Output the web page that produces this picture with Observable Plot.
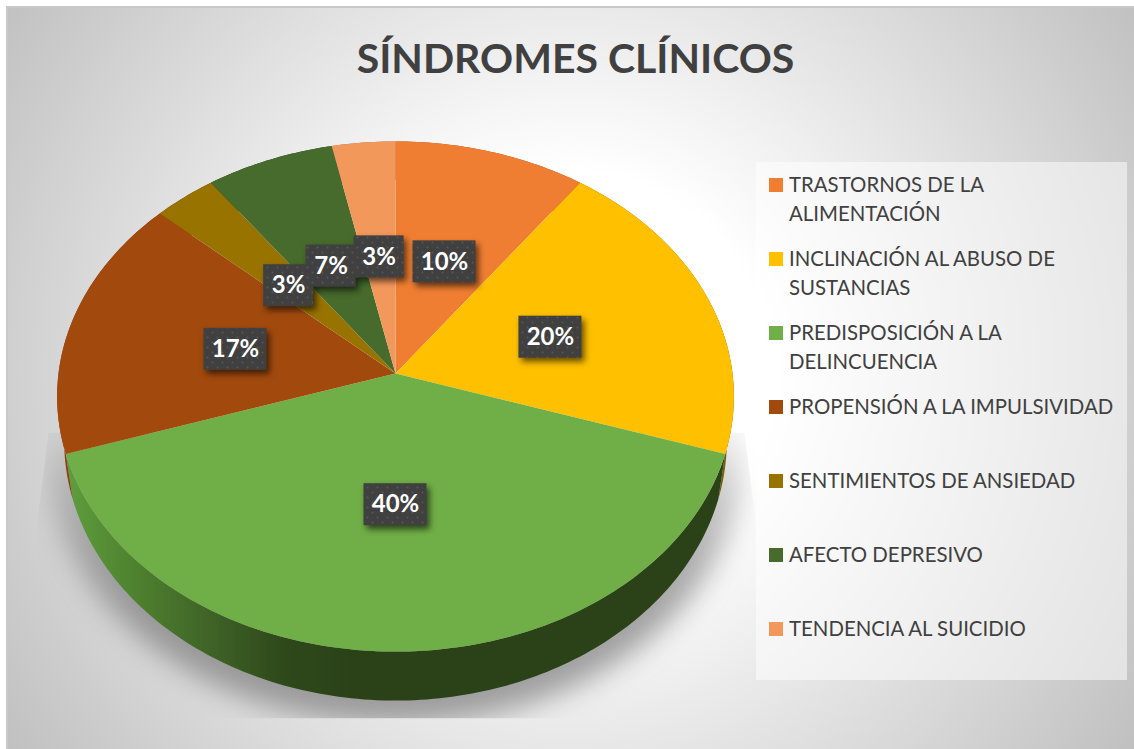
<!DOCTYPE html>
<html>
<head>
<meta charset="utf-8">
<script src="https://cdn.jsdelivr.net/npm/d3@7"></script>
<script src="https://cdn.jsdelivr.net/npm/@observablehq/plot@0.6"></script>
<style>
html,body{margin:0;padding:0;background:#fff;overflow:hidden}
svg{display:block}
</style>
</head>
<body>
<div id="chart"></div>
<script>
const titleText = "SÍNDROMES CLÍNICOS";
const categories = ["TRASTORNOS DE LA ALIMENTACIÓN","INCLINACIÓN AL ABUSO DE SUSTANCIAS","PREDISPOSICIÓN A LA DELINCUENCIA","PROPENSIÓN A LA IMPULSIVIDAD","SENTIMIENTOS DE ANSIEDAD","AFECTO DEPRESIVO","TENDENCIA AL SUICIDIO"];
const values = [10, 20, 40, 16.7, 3.3, 6.7, 3.3];
const colors = ["#EF7E32","#FFC000","#70AE47","#A24A0E","#997300","#466B2C","#F3985B"];
const wallFills = ["#9c5020","#7a5c00","url(#wallGreen)","#8a3f0c","#6a5000","#30491e","#a0663c"];
const legendLines = [["TRASTORNOS DE LA","ALIMENTACIÓN"],["INCLINACIÓN AL ABUSO DE","SUSTANCIAS"],["PREDISPOSICIÓN A LA","DELINCUENCIA"],["PROPENSIÓN A LA IMPULSIVIDAD"],["SENTIMIENTOS DE ANSIEDAD"],["AFECTO DEPRESIVO"],["TENDENCIA AL SUICIDIO"]];

// Perspective of the tilted disc
const cx = 395;
const topDisc = {a:337, b:253, k:0.0902, y:373};
const baseDisc = {a:330, b:258, k:0.0902, y:416.5};
const shadowDisc = {a:346, b:270, k:0.0902, y:427};
const project = (d, deg, r=1) => {
  const t = deg*Math.PI/180, den = 1 + r*d.k*Math.cos(t);
  return [cx + r*d.a*Math.sin(t)/den, d.y - r*d.b*Math.cos(t)/den];
};
const arc = (d, a0, a1) => {
  const n = Math.max(2, Math.ceil(Math.abs(a1-a0)));
  return d3.range(n+1).map(i => project(d, a0+(a1-a0)*i/n));
};

const total = d3.sum(values);
let run = 0;
const slices = values.map((v,i) => {
  const start = run/total*360; run += v;
  const end = run/total*360;
  return {i, name:categories[i], value:v, start, end, mid:(start+end)/2, wall:wallFills[i]};
});
const toRows = (pts,name) => pts.map(([x,y]) => ({x,y,name}));
const topRows = slices.flatMap(s => toRows([[cx,topDisc.y],...arc(topDisc,s.start,s.end)], s.name));
const wallMarks = slices.map(s => {
  const pts = [...arc(topDisc,s.start,s.end), ...arc(baseDisc,s.start,s.end).reverse()];
  return Plot.line(toRows(pts,s.name), {x:"x",y:"y",fill:s.wall,stroke:null,curve:"linear-closed"});
});
const shadowRows = toRows(arc(shadowDisc,0,360),"shadow");

const pct = d3.format(".0%");
const labels = slices.map(s => {
  const [x,y0] = project(topDisc, s.mid, 0.49);
  const y = y0 + 1.5;
  const text = pct(s.value/total);
  const w = text.length > 2 ? 63 : 50;
  return {x, y, text, x1:x-w/2, x2:x+w/2, y1:y-21, y2:y+21};
});

const legendRows = categories.map((name,i) => ({name, y:185+i*74}));
const legendText = legendRows.flatMap((r,i) => legendLines[i].map((t,j) => ({t, y:r.y+j*29})));

const defsMark = () => {
  const defs = d3.create("svg:defs");
  const bg = defs.append("radialGradient").attr("id","bg").attr("gradientUnits","userSpaceOnUse")
    .attr("cx",570).attr("cy",370).attr("r",680);
  bg.append("stop").attr("offset",0.29).attr("stop-color","#ffffff");
  bg.append("stop").attr("offset",1).attr("stop-color","#c0c0c0");
  const wg = defs.append("linearGradient").attr("id","wallGreen").attr("gradientUnits","userSpaceOnUse")
    .attr("x1",70).attr("x2",350).attr("y1",0).attr("y2",0);
  [[0,"#5d9c3c"],[0.25,"#4d7f2e"],[0.5,"#3f6327"],[0.75,"#2f491b"],[1,"#2b4218"]].forEach(([o,c]) =>
    wg.append("stop").attr("offset",o).attr("stop-color",c));
  const sf = defs.append("linearGradient").attr("id","shadowFill").attr("gradientUnits","userSpaceOnUse")
    .attr("x1",0).attr("x2",0).attr("y1",425).attr("y2",620);
  [[0,0.06],[0.3,0.38],[0.7,0.6],[1,0.68]].forEach(([o,a]) =>
    sf.append("stop").attr("offset",o).attr("stop-color","#777").attr("stop-opacity",a));
  const pat = defs.append("pattern").attr("id","dots").attr("patternUnits","userSpaceOnUse").attr("width",10).attr("height",10);
  pat.append("rect").attr("width",10).attr("height",10).attr("fill","#404040");
  [[2.5,2.5],[7.5,7.5]].forEach(([x,y]) => pat.append("circle").attr("cx",x).attr("cy",y).attr("r",1).attr("fill","#565656"));
  const clip = defs.append("clipPath").attr("id","shadowClip");
  clip.append("polygon").attr("points","48,432 37,520 37,620 60,718 735,718 755,640 755,520 744,432");
  return defs.node();
};

const font = "Lato, Carlito, sans-serif";
const plot = Plot.plot({
  width:1134, height:749, margin:0,
  style:{background:"transparent", fontFamily:font},
  x:{domain:[0,1134], range:[0,1134], axis:null},
  y:{domain:[0,749], range:[0,749], axis:null},
  color:{type:"ordinal", domain:categories, range:colors},
  marks:[
    defsMark,
    Plot.rect([0],{x1:()=>6,x2:()=>1134,y1:()=>6,y2:()=>749,fill:"#c9c9c9"}),
    Plot.rect([0],{x1:()=>8,x2:()=>1134,y1:()=>8,y2:()=>749,fill:"url(#bg)"}),
    Plot.line(shadowRows,{x:"x",y:"y",fill:"url(#shadowFill)",stroke:null,curve:"linear-closed",imageFilter:"blur(14px)",
      render:(i,s,v,d,c,next)=>{const g=next(i,s,v,d,c); g.setAttribute("clip-path","url(#shadowClip)"); return g;}}),
    ...wallMarks,
    Plot.line(topRows,{x:"x",y:"y",z:"name",fill:"name",stroke:null,curve:"linear-closed"}),
    Plot.text([titleText],{x:()=>575,y:()=>59,text:d=>d,fontSize:41,fontWeight:700,fill:"#404040",textAnchor:"middle"}),
    Plot.rect(labels,{x1:"x1",x2:"x2",y1:"y1",y2:"y2",fill:"url(#dots)",imageFilter:"drop-shadow(3px 4px 3px rgba(0,0,0,.6))"}),
    Plot.text(labels,{x:"x",y:"y",text:"text",fill:"white",fontSize:24,fontWeight:700}),
    Plot.rect([0],{x1:()=>756,x2:()=>1127,y1:()=>162,y2:()=>680,fill:"white",fillOpacity:0.5}),
    Plot.rect(legendRows,{x1:()=>769,x2:()=>783,y1:d=>d.y-7,y2:d=>d.y+7,fill:"name"}),
    Plot.text(legendText,{x:()=>788.5,y:"y",text:"t",textAnchor:"start",fontSize:20.4,fill:"#404040"})
  ]
});
document.getElementById("chart").append(plot);
</script>
</body>
</html>
